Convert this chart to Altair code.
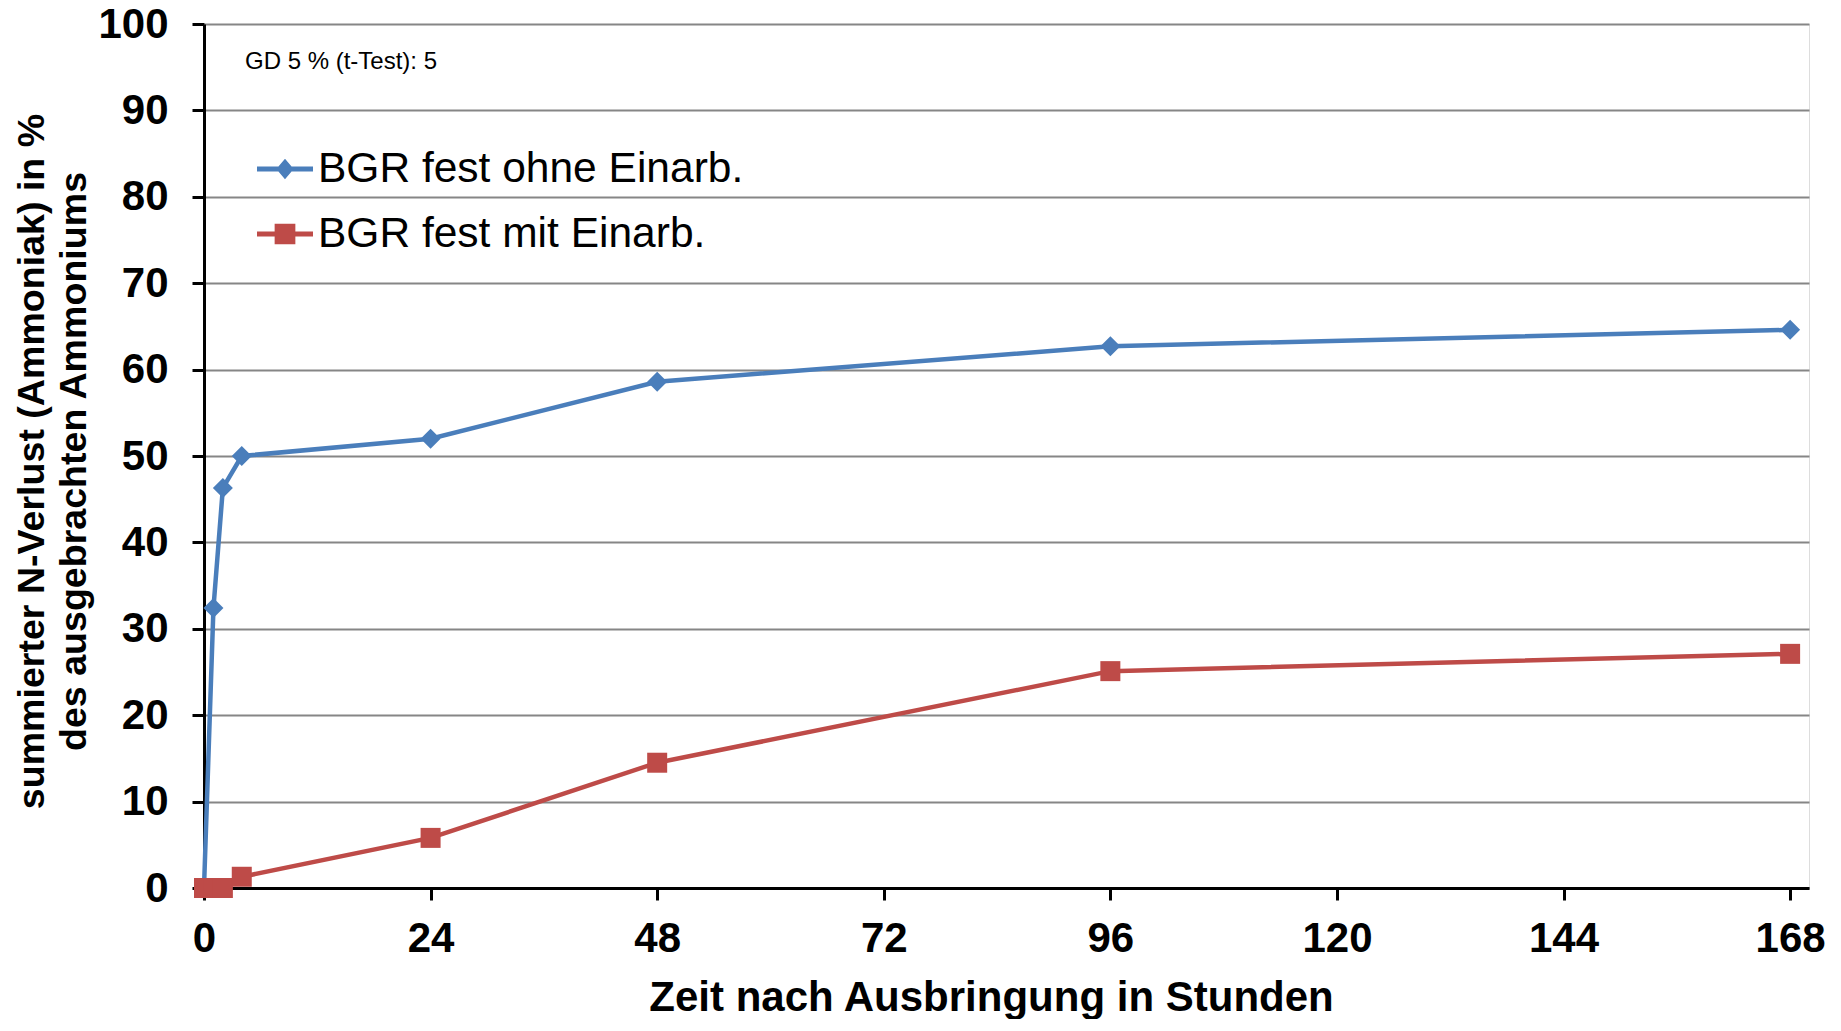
import altair as alt
import pandas as pd

# ---- data ----
hours = [0, 1, 2, 4, 24, 48, 96, 168]
ohne_einarb = [0, 32.4, 46.3, 50.0, 52.0, 58.6, 62.7, 64.6]
mit_einarb = [0, 0, 0, 1.3, 5.8, 14.5, 25.1, 27.1]
series_names = ["BGR fest ohne Einarb.", "BGR fest mit Einarb."]
series_colors = ["#4A7EBB", "#BE4B48"]
x_ticks = [0, 24, 48, 72, 96, 120, 144, 168]
y_ticks = [0, 10, 20, 30, 40, 50, 60, 70, 80, 90, 100]
note = "GD 5 % (t-Test): 5"
x_title = "Zeit nach Ausbringung in Stunden"
y_title = ["summierter N-Verlust (Ammoniak) in %", "des ausgebrachten  Ammoniums"]

df = pd.DataFrame({
    "Stunden": hours + hours,
    "Verlust": ohne_einarb + mit_einarb,
    "Serie": [series_names[0]] * len(hours) + [series_names[1]] * len(hours),
})

F = "Liberation Sans, Arial, Helvetica, sans-serif"

# legend symbols: line + marker, in Vega's [-1,1] symbol space
line_part = "M-1,-0.09L1,-0.09L1,0.09L-1,0.09Z"
diamond_part = "M0,-0.37L0.31,0L0,0.37L-0.31,0Z"
square_part = "M-0.37,-0.37L0.37,-0.37L0.37,0.37L-0.37,0.37Z"
legend_shapes = [line_part + diamond_part, line_part + square_part]

x_enc = alt.X(
    "Stunden:Q",
    scale=alt.Scale(domain=[0, 170], nice=False, zero=False),
    axis=alt.Axis(
        values=x_ticks, grid=False, domainColor="black", domainWidth=3,
        tickColor="black", tickWidth=3, tickSize=12,
        labelFont=F, labelFontSize=42, labelFontWeight="bold", labelColor="black",
        labelPadding=18, labelFlush=False, labelOverlap=False, labelBound=False,
        title=x_title, titleFont=F, titleFontSize=42, titleFontWeight="bold",
        titleColor="black", titleX=787, titleY=122, titleBaseline="alphabetic",
        titleAlign="center",
    ),
)
y_enc = alt.Y(
    "Verlust:Q",
    scale=alt.Scale(domain=[0, 100], nice=False),
    axis=alt.Axis(
        values=y_ticks, grid=True, gridColor="#868686", gridWidth=2,
        domainColor="black", domainWidth=3, tickColor="black", tickWidth=3, tickSize=12,
        labelFont=F, labelFontSize=42, labelFontWeight="bold", labelColor="black",
        labelPadding=24, labelOverlap=False, labelBound=False,
        title=y_title, titleFont=F, titleFontSize=37.6, titleFontWeight="bold",
        titleColor="black", titleAngle=-90, titleX=-161, titleY=437,
        titleAlign="center", titleBaseline="alphabetic", titleLineHeight=42,
    ),
)

base = alt.Chart(df)

def series_layers(name, color, marker):
    sub = base.transform_filter(alt.datum.Serie == name)
    ln = sub.mark_line(strokeWidth=4.5, color=color).encode(x=x_enc, y=y_enc)
    if marker == "diamond":
        pt = sub.mark_point(shape="diamond", filled=True, size=400, opacity=1, color=color)
    else:
        pt = sub.mark_square(size=400, opacity=1, color=color)
    return ln, pt.encode(x=x_enc, y=y_enc)

blue_line, blue_pts = series_layers(series_names[0], series_colors[0], "diamond")
red_line, red_pts = series_layers(series_names[1], series_colors[1], "square")

leg = alt.Legend(
    orient="none", legendX=53, legendY=117, title=None, padding=0,
    labelFont=F, labelFontSize=42.5, labelColor="black", labelLimit=1000,
    labelOffset=5, symbolSize=3136, symbolStrokeWidth=0, rowPadding=15,
    symbolOpacity=1,
)

legend_layer = base.transform_filter("false").mark_point(
    filled=True, size=3136, opacity=1
).encode(
    x=x_enc, y=y_enc,
    color=alt.Color("Serie:N", scale=alt.Scale(domain=series_names, range=series_colors), legend=leg),
    shape=alt.Shape("Serie:N", scale=alt.Scale(domain=series_names, range=legend_shapes), legend=leg),
)

chart = alt.layer(blue_line, red_line, blue_pts, red_pts, legend_layer).properties(
    width=1605,
    height=864,
    autosize=alt.AutoSizeParams(type="none"),
    padding={"left": 196, "top": 16, "right": 24, "bottom": 131},
    title=alt.TitleParams(
        note, anchor="start", frame="group", orient="top", font=F, fontSize=24,
        fontWeight="normal", color="black", offset=0, dx=41, dy=90,
        baseline="alphabetic",
    ),
).configure_view(stroke="black", strokeWidth=2).configure(background="white")

chart.save("out.html", embed_options={"renderer": "svg", "actions": False})
